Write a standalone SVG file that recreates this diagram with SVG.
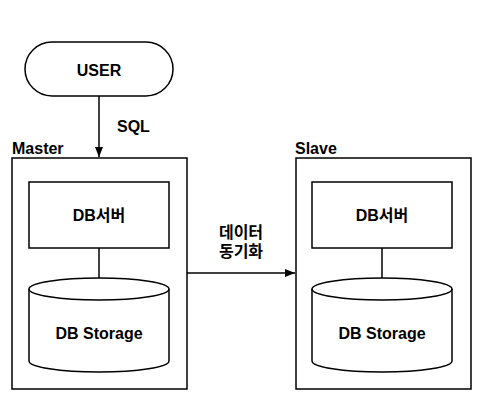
<svg xmlns="http://www.w3.org/2000/svg" width="495" height="416" viewBox="0 0 495 416">
<defs>
<marker id="arr" markerWidth="10" markerHeight="8" refX="10" refY="4" orient="auto" markerUnits="userSpaceOnUse">
<path d="M0,0 L10,4 L0,8 Z" fill="#000"/>
</marker>
</defs>
<style>
.s{fill:#fff;stroke:#000;stroke-width:1.5}
.n{fill:none;stroke:#000;stroke-width:1.5}
.t{font-family:"Liberation Sans","Noto Sans CJK KR",Arial,sans-serif;font-weight:bold;font-size:16px;fill:#000}
.c{text-anchor:middle}
</style>
<rect width="495" height="416" fill="#fff"/>
<g id="user">
<rect class="s" x="25" y="42" width="148" height="54" rx="27" ry="27"/>
<text class="t c" x="99" y="76">USER</text>
</g>
<g id="master">
<rect class="s" x="12" y="158" width="175" height="231"/>
<text class="t" x="12" y="154">Master</text>
</g>
<g id="master-server">
<rect class="s" x="29" y="182" width="140" height="66"/>
<text class="t c" x="99" y="221">DB서버</text>
</g>
<g id="master-storage">
<path class="s" d="M29,289 A70,11 0 0 1 169,289 L169,361 A70,11 0 0 1 29,361 Z"/>
<path class="n" d="M29,289 A70,11 0 0 0 169,289"/>
<text class="t c" x="99" y="339">DB Storage</text>
</g>
<g id="slave">
<rect class="s" x="296" y="158" width="175" height="231"/>
<text class="t" x="295" y="154">Slave</text>
</g>
<g id="slave-server">
<rect class="s" x="312" y="182" width="140" height="66"/>
<text class="t c" x="382" y="221">DB서버</text>
</g>
<g id="slave-storage">
<path class="s" d="M312,289 A70,11 0 0 1 452,289 L452,361 A70,11 0 0 1 312,361 Z"/>
<path class="n" d="M312,289 A70,11 0 0 0 452,289"/>
<text class="t c" x="382" y="339">DB Storage</text>
</g>
<g id="connectors">
<line class="n" x1="99" y1="96" x2="99" y2="157" marker-end="url(#arr)"/>
<text class="t" x="117" y="132">SQL</text>
<line class="n" x1="99" y1="248" x2="99" y2="278"/>
<line class="n" x1="382" y1="248" x2="382" y2="278"/>
<line class="n" x1="187" y1="273" x2="295" y2="273" marker-end="url(#arr)"/>
<text class="t c" x="241" y="238">데이터</text>
<text class="t c" x="241" y="257">동기화</text>
</g>
</svg>
